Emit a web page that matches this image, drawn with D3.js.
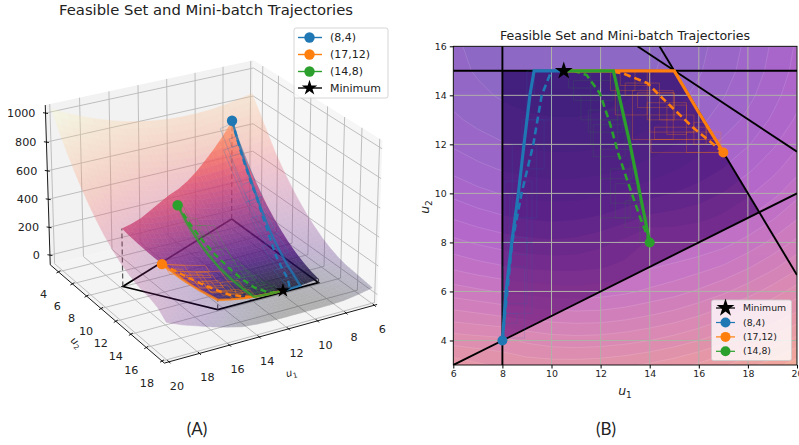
<!DOCTYPE html>
<html>
<head>
<meta charset="utf-8">
<script src="https://cdn.jsdelivr.net/npm/d3@7"></script>
<style>
  body { margin: 0; background: #fff; }
  text { font-family: "DejaVu Sans", sans-serif; fill: #222; }
  .cap { font-family: Lato, sans-serif; font-size: 17px; }
</style>
</head>
<body>
<svg id="chart" width="799" height="445"></svg>
<script>
// surface values, rows are u2, columns are u1
var gridU1 = [6, 7, 8, 9, 10, 11, 12, 13, 14, 15, 16, 17, 18, 19, 20];
var gridU2 = [3, 4, 5, 6, 7, 8, 9, 10, 11, 12, 13, 14, 15, 16, 17, 18];
var surfaceZ = [
  [830, 808, 791, 779, 774, 774, 779, 791, 808, 830, 859, 893, 933, 978, 1029],
  [730, 722, 715, 690, 675, 670, 674, 684, 700, 722, 750, 784, 824, 868, 919],
  [625, 612, 598, 585, 575, 570, 572, 584, 602, 622, 650, 684, 722, 766, 817],
  [525, 510, 495, 485, 475, 472, 478, 490, 510, 530, 558, 590, 628, 673, 724],
  [440, 420, 405, 392, 386, 386, 395, 415, 445, 460, 480, 506, 544, 588, 639],
  [364, 343, 326, 315, 309, 315, 335, 365, 410, 400, 410, 432, 468, 512, 563],
  [296, 274, 257, 246, 240, 244, 258, 282, 312, 322, 336, 362, 400, 444, 495],
  [237, 214, 197, 186, 180, 181, 190, 208, 232, 252, 272, 303, 341, 384, 435],
  [186, 163, 146, 135, 129, 130, 137, 150, 170, 195, 222, 252, 290, 333, 385],
  [143, 121, 104, 92, 87, 87, 92, 104, 122, 148, 178, 212, 246, 291, 342],
  [109, 87, 70, 58, 53, 53, 58, 70, 87, 109, 138, 172, 212, 257, 308],
  [84, 61, 44, 33, 27, 27, 33, 44, 61, 84, 112, 147, 186, 232, 283],
  [67, 44, 27, 16, 10, 10, 16, 27, 44, 67, 95, 130, 169, 215, 266],
  [59, 36, 19, 8, 2, 2, 8, 19, 36, 59, 87, 121, 161, 206, 257],
  [50, 28, 10, 2, 0, 0, 2, 10, 25, 48, 75, 105, 145, 188, 235],
  [40, 20, 5, 0, 0, 0, 0, 0, 5, 15, 40, 70, 105, 140, 185]
];

var feasible = [[8, 4], [8, 15], [15, 15], [18.42, 9.2]];
var constraintLines = [
  [[8, 3], [8, 16]],
  [[6, 15], [20, 15]],
  [[6, 3], [20, 10]],
  [[13.5, 16], [20, 11.7]],
  [[14.4, 16], [20, 6.67]]
];
var minimum = [10.5, 15];

var names = ["(8,4)", "(17,12)", "(14,8)"];
var colors = ["#1f77b4", "#ff7f0e", "#2ca02c"];
var starts = [[8, 4], [17, 11.67], [14, 8]];

var solidPaths = [
  [[8, 4], [8.15, 6], [8.38, 8], [8.65, 10], [8.88, 12], [9.12, 14], [9.29, 15], [10.5, 15]],
  [[17, 11.67], [16, 13.3], [15, 15], [10.5, 15]],
  [[14, 8], [13.6, 10], [13.2, 12], [12.75, 14], [12.52, 15], [10.5, 15]]
];
var dashedPaths = [
  [[8, 4], [8.2, 6], [8.4, 8], [8.78, 10], [9.26, 12], [9.6, 14], [10, 15]],
  [[17, 11.67], [15.75, 12.7], [14.4, 14], [13.9, 14.5], [12.9, 14.9], [12.3, 15]],
  [[14, 8], [13.6, 9.05], [13.13, 10.4], [12.72, 11.63], [12.38, 12.86], [11.97, 14.08], [11.43, 14.83], [10.9, 15]]
];
// mini-batch boxes, u1 low, u1 high, u2 low, u2 high
var blueBoxes = [
  [8, 9.2, 5.1, 8], [8, 8.9, 4.1, 7], [8.1, 8.6, 4.7, 5.1], [8.2, 9, 5.5, 8.2], [8.3, 9, 7.5, 10],
  [8.4, 9.4, 9, 12], [8.8, 9.7, 11, 13], [9, 10, 13, 15], [9.3, 10, 14, 15], [8.1, 9.2, 8, 10.5]
];
var orangeBoxes = [
  [14.05, 16.85, 11.67, 12.2], [14.2, 16.3, 12.2, 12.7], [14, 15.8, 12.5, 13.2], [13.9, 15.5, 13, 13.7],
  [13.5, 15, 13.5, 14.1], [13.3, 14.96, 12.2, 14.2], [13, 14.4, 14, 14.5], [12.8, 14, 14.4, 15],
  [12.6, 13.9, 13.2, 15], [12.4, 13.4, 14.2, 15], [15.5, 16.9, 11.67, 12.5], [15.8, 16.3, 12, 12.9],
  [14.7, 15.5, 12.4, 13.6], [14.4, 15, 13, 14.1]
];
var greenBoxes = [
  [13.6, 14, 8, 9], [13, 13.9, 8.6, 9.7], [12.6, 13.6, 9, 10.4], [12.4, 13.5, 9.6, 11], [12, 13.3, 10.6, 11.8],
  [11.7, 13, 11.5, 12.8], [11.5, 12.9, 12.5, 13.4], [11.2, 12.7, 13, 14], [10.9, 12.5, 13.8, 14.6],
  [10.7, 12, 14.3, 15], [11.6, 12.7, 12, 15], [12, 13.2, 9, 13]
];
var boxes = [blueBoxes, orangeBoxes, greenBoxes];

var contourLevels = d3.range(0, 1100, 50);
var flatTicksU1 = [6, 8, 10, 12, 14, 16, 18, 20];
var flatTicksU2 = [4, 6, 8, 10, 12, 14, 16];
var cubeTicksU1 = [6, 8, 10, 12, 14, 16, 18, 20];
var cubeTicksU2 = [4, 6, 8, 10, 12, 14, 16, 18];
var cubeTicksZ = [0, 200, 400, 600, 800, 1000];

var svg = d3.select("#chart");

// reads the table between its rows and columns
function zAt(u1, u2) {
  var i = Math.max(0, Math.min(gridU1.length - 2, Math.floor(u1 - gridU1[0])));
  var j = Math.max(0, Math.min(gridU2.length - 2, Math.floor(u2 - gridU2[0])));
  var a = u1 - gridU1[i], b = u2 - gridU2[j];
  return (1 - a) * (1 - b) * surfaceZ[j][i] + a * (1 - b) * surfaceZ[j][i + 1] +
    (1 - a) * b * surfaceZ[j + 1][i] + a * b * surfaceZ[j + 1][i + 1];
}

// splits a polyline so it follows the surface in the 3d view
function dense(points, n) {
  var out = [];
  d3.pairs(points).forEach(function(p) {
    d3.range(n).forEach(function(k) {
      out.push([p[0][0] + (p[1][0] - p[0][0]) * k / n, p[0][1] + (p[1][1] - p[0][1]) * k / n]);
    });
  });
  out.push(points[points.length - 1]);
  return out;
}

function boxLoop(b) {
  return [[b[0], b[2]], [b[1], b[2]], [b[1], b[3]], [b[0], b[3]], [b[0], b[2]]];
}

/* ---------- right panel ---------- */
var right = svg.append("g");
var x = d3.scaleLinear().domain([6, 20]).range([453.3, 797]);
var y = d3.scaleLinear().domain([3, 16]).range([365, 46.3]);
var flatLine = d3.line().x(function(d) { return x(d[0]); }).y(function(d) { return y(d[1]); });

svg.append("clipPath").attr("id", "plotClip").append("rect")
    .attr("x", x(6)).attr("y", y(16))
    .attr("width", x(20) - x(6)).attr("height", y(3) - y(16));
svg.append("clipPath").attr("id", "feasClip").append("path")
    .attr("d", flatLine(feasible) + "Z");

var bands = d3.contours().size([gridU1.length, gridU2.length])
    .thresholds(contourLevels)(surfaceZ.reduce(function(a, r) { return a.concat(r); }, []));
var bandPath = d3.geoPath(d3.geoTransform({
  point: function(a, b) { this.stream.point(x(gridU1[0] + a - 0.5), y(gridU2[0] + b - 0.5)); }
}));
var outerColor = function(z) { return d3.interpolatePlasma(0.1 + 0.55 * z / 1000); };
var innerColor = d3.scaleLinear().domain([0, 200, 400, 800])
    .range(["#43207e", "#5a2288", "#7b2f8e", "#a04090"]);

var plot = right.append("g").attr("clip-path", "url(#plotClip)");
plot.append("g").attr("opacity", 0.6).selectAll("path").data(bands).join("path")
    .attr("d", bandPath).attr("fill", function(d) { return outerColor(d.value); });
plot.append("g").selectAll("path").data(bands).join("path")
    .attr("d", bandPath).attr("fill", "none")
    .attr("stroke", "#fff").attr("stroke-opacity", 0.18).attr("stroke-width", 0.7);
plot.append("g").attr("clip-path", "url(#feasClip)").selectAll("path").data(bands).join("path")
    .attr("d", bandPath).attr("fill", function(d) { return innerColor(d.value); });

plot.append("g").selectAll("line").data(flatTicksU1).join("line")
    .attr("x1", x).attr("x2", x).attr("y1", y(3)).attr("y2", y(16))
    .attr("stroke", "#b0b0a8").attr("stroke-width", 1);
plot.append("g").selectAll("line").data(flatTicksU2).join("line")
    .attr("y1", y).attr("y2", y).attr("x1", x(6)).attr("x2", x(20))
    .attr("stroke", "#b0b0a8").attr("stroke-width", 1);

plot.append("g").selectAll("path").data(constraintLines).join("path")
    .attr("d", flatLine).attr("fill", "none").attr("stroke", "#000").attr("stroke-width", 1.9);

boxes.forEach(function(set, s) {
  plot.append("g").selectAll("path").data(set).join("path")
      .attr("d", function(b) { return flatLine(boxLoop(b)); })
      .attr("fill", "none").attr("stroke", colors[s])
      .attr("stroke-opacity", s == 1 ? 0.4 : 0.22).attr("stroke-width", 0.7);
});
dashedPaths.forEach(function(p, s) {
  plot.append("path").attr("d", flatLine(p)).attr("fill", "none")
      .attr("stroke", colors[s]).attr("stroke-width", 2.6).attr("stroke-dasharray", "7,4");
});
solidPaths.forEach(function(p, s) {
  plot.append("path").attr("d", flatLine(p)).attr("fill", "none")
      .attr("stroke", colors[s]).attr("stroke-width", 3.2);
});
starts.forEach(function(p, s) {
  right.append("circle").attr("cx", x(p[0])).attr("cy", y(p[1])).attr("r", 5).attr("fill", colors[s]);
});
right.append("path").attr("d", d3.symbol().type(d3.symbolStar).size(100))
    .attr("transform", "translate(" + x(minimum[0]) + "," + y(minimum[1]) + ")").attr("fill", "#000");

right.append("rect").attr("x", x(6)).attr("y", y(16))
    .attr("width", x(20) - x(6)).attr("height", y(3) - y(16))
    .attr("fill", "none").attr("stroke", "#000").attr("stroke-width", 0.9);

var xAxis = right.append("g").attr("transform", "translate(0," + y(3) + ")")
    .call(d3.axisBottom(x).tickValues(flatTicksU1).tickSize(3.5).tickPadding(2).tickFormat(d3.format("d")));
var yAxis = right.append("g").attr("transform", "translate(" + x(6) + ",0)")
    .call(d3.axisLeft(y).tickValues(flatTicksU2).tickSize(3.5).tickPadding(3).tickFormat(d3.format("d")));
[xAxis, yAxis].forEach(function(a) {
  a.select(".domain").remove();
  a.selectAll("text").style("font-size", "9.4px").style("font-family", "DejaVu Sans").attr("fill", "#222");
});

right.append("text").attr("x", 625).attr("y", 40).attr("text-anchor", "middle")
    .style("font-size", "12.6px").text("Feasible Set and Mini-batch Trajectories");

function mathLabel(g, ax, ay, sub, size, rot) {
  var t = g.append("text").attr("transform", "translate(" + ax + "," + ay + ") rotate(" + rot + ")")
      .attr("text-anchor", "middle").style("font-size", size + "px");
  t.append("tspan").style("font-style", "italic").text("u");
  t.append("tspan").attr("dy", size * 0.25).style("font-size", (size * 0.72) + "px").text(sub);
}
mathLabel(right, 625, 395, "1", 12.5, 0);
mathLabel(right, 429, 207, "2", 12.5, -90);

// right legend
var legRight = right.append("g");
legRight.append("rect").attr("x", 711.5).attr("y", 300).attr("width", 80).attr("height", 60.5).attr("rx", 2)
    .attr("fill", "#fff").attr("fill-opacity", 0.8).attr("stroke", "#ccc").attr("stroke-width", 0.8);
legRight.append("line").attr("x1", 716).attr("x2", 735).attr("y1", 308).attr("y2", 308).attr("stroke", "#000").attr("stroke-width", 1.2);
legRight.append("path").attr("d", d3.symbol().type(d3.symbolStar).size(100))
    .attr("transform", "translate(725.5,308)").attr("fill", "#000");
legRight.append("text").attr("x", 743).attr("y", 311).style("font-size", "9.3px").text("Minimum");
names.forEach(function(n, s) {
  var ly = 322.5 + s * 14.4;
  legRight.append("line").attr("x1", 716).attr("x2", 735).attr("y1", ly).attr("y2", ly).attr("stroke", colors[s]).attr("stroke-width", 1.2);
  legRight.append("circle").attr("cx", 725.5).attr("cy", ly).attr("r", 5).attr("fill", colors[s]);
  legRight.append("text").attr("x", 743).attr("y", ly + 3).style("font-size", "9.3px").text(n);
});

/* ---------- left panel, mplot3d style view ---------- */
var left = svg.append("g");
var elev = 25 * Math.PI / 180, azim = 60 * Math.PI / 180, dist = 10;
var xlim = [5.8, 20.3], ylim = [2.8, 18.3], zlim = [-70, 1055];
var nx = d3.scaleLinear().domain(xlim).range([0, 1]);
var ny = d3.scaleLinear().domain(ylim).range([0, 1]);
var nz = d3.scaleLinear().domain(zlim).range([0, 0.735]);
var sx = d3.scaleLinear().domain([-1, 1]).range([211 - 243, 211 + 243]);
var sy = d3.scaleLinear().domain([-1, 1]).range([203 + 243, 203 - 243]);

var w = [Math.cos(elev) * Math.cos(azim), Math.cos(elev) * Math.sin(azim), Math.sin(elev)];
var r = [-Math.sin(azim), Math.cos(azim), 0];
var up = [w[1] * r[2] - w[2] * r[1], w[2] * r[0] - w[0] * r[2], w[0] * r[1] - w[1] * r[0]];

function project(u1, u2, z) {
  var d = [nx(u1) - 0.5 - w[0] * dist, ny(u2) - 0.5 - w[1] * dist, nz(z) - 0.375 - w[2] * dist];
  var dot = function(a) { return a[0] * d[0] + a[1] * d[1] + a[2] * d[2]; };
  var k = dist / -dot(w);
  return [sx(dot(r) * k), sy(dot(up) * k)];
}
var line3 = d3.line();
function onSurface(points) {
  return points.map(function(p) { return project(p[0], p[1], zAt(p[0], p[1])); });
}

// panes
var panes = [
  { fill: "#f2f2f2", c: [[xlim[0], ylim[0], zlim[0]], [xlim[1], ylim[0], zlim[0]], [xlim[1], ylim[0], zlim[1]], [xlim[0], ylim[0], zlim[1]]] },
  { fill: "#f6f6f6", c: [[xlim[0], ylim[0], zlim[0]], [xlim[0], ylim[1], zlim[0]], [xlim[0], ylim[1], zlim[1]], [xlim[0], ylim[0], zlim[1]]] },
  { fill: "#f4f4f4", c: [[xlim[0], ylim[0], zlim[0]], [xlim[1], ylim[0], zlim[0]], [xlim[1], ylim[1], zlim[0]], [xlim[0], ylim[1], zlim[0]]] }
];
left.append("g").selectAll("path").data(panes).join("path")
    .attr("d", function(p) { return line3(p.c.map(function(c) { return project(c[0], c[1], c[2]); })) + "Z"; })
    .attr("fill", function(p) { return p.fill; });

// grid lines
var gridLines = [];
cubeTicksU1.forEach(function(t) {
  gridLines.push([[t, ylim[1], zlim[0]], [t, ylim[0], zlim[0]], [t, ylim[0], zlim[1]]]);
});
cubeTicksU2.forEach(function(t) {
  gridLines.push([[xlim[1], t, zlim[0]], [xlim[0], t, zlim[0]], [xlim[0], t, zlim[1]]]);
});
cubeTicksZ.forEach(function(t) {
  gridLines.push([[xlim[1], ylim[0], t], [xlim[0], ylim[0], t], [xlim[0], ylim[1], t]]);
});
left.append("g").selectAll("path").data(gridLines).join("path")
    .attr("d", function(g) { return line3(g.map(function(c) { return project(c[0], c[1], c[2]); })); })
    .attr("fill", "none").attr("stroke", "#b8b8b8").attr("stroke-width", 0.9);

// axis edges and ticks
var edges = [
  [[xlim[1], ylim[1], zlim[0]], [xlim[0], ylim[1], zlim[0]]],
  [[xlim[1], ylim[0], zlim[0]], [xlim[1], ylim[1], zlim[0]]],
  [[xlim[1], ylim[0], zlim[0]], [xlim[1], ylim[0], zlim[1]]]
];
left.append("g").selectAll("path").data(edges).join("path")
    .attr("d", function(g) { return line3(g.map(function(c) { return project(c[0], c[1], c[2]); })); })
    .attr("stroke", "#000").attr("stroke-width", 0.9);

function tickMark(p, dx, dy) {
  left.append("line").attr("x1", p[0] - dx).attr("y1", p[1] - dy).attr("x2", p[0] + dx).attr("y2", p[1] + dy)
      .attr("stroke", "#000").attr("stroke-width", 0.9);
}
cubeTicksU1.forEach(function(t) {
  var p = project(t, ylim[1], zlim[0]);
  tickMark(p, 1.5, 1.5);
  left.append("text").attr("x", p[0] + 8).attr("y", p[1] + 28).attr("text-anchor", "middle")
      .style("font-size", "11.2px").text(t);
});
cubeTicksU2.forEach(function(t) {
  var p = project(xlim[1], t, zlim[0]);
  tickMark(p, -2, 1.2);
  left.append("text").attr("x", p[0] - 15).attr("y", p[1] + 26).attr("text-anchor", "middle")
      .style("font-size", "11.2px").text(t);
});
cubeTicksZ.forEach(function(t) {
  var p = project(xlim[1], ylim[0], t);
  tickMark(p, 2.5, 0.4);
  left.append("text").attr("x", p[0] - 10).attr("y", p[1] + 4).attr("text-anchor", "end")
      .style("font-size", "11.2px").text(t);
});
mathLabel(left, 292, 376, "1", 10, -14);
mathLabel(left, 74, 345, "2", 10, 42);

// floor polygon and the dashed drops, they sit under the surface
left.append("path").attr("d", line3(feasible.map(function(p) { return project(p[0], p[1], 0); })) + "Z")
    .attr("fill", "none").attr("stroke", "#000").attr("stroke-width", 1.7);
left.append("g").selectAll("path").data(feasible).join("path")
    .attr("d", function(p) { return line3([project(p[0], p[1], 0), project(p[0], p[1], zAt(p[0], p[1]))]); })
    .attr("stroke", "#555").attr("stroke-width", 1.2).attr("stroke-dasharray", "5,3");

// surface mesh
var sub = 3, cells = [];
gridU1.slice(0, -1).forEach(function(a) {
  gridU2.slice(0, -1).forEach(function(b) {
    d3.range(sub).forEach(function(i) {
      d3.range(sub).forEach(function(j) {
        cells.push([a + i / sub, b + j / sub]);
      });
    });
  });
});
function cellPath(c) {
  var s = 1 / sub;
  return line3(onSurface([[c[0], c[1]], [c[0] + s, c[1]], [c[0] + s, c[1] + s], [c[0], c[1] + s]])) + "Z";
}
function cellColor(c) {
  var s = 0.5 / sub;
  return d3.interpolateMagma(Math.min(1, Math.pow(zAt(c[0] + s, c[1] + s) / 1000, 0.65)));
}
function drawMesh(g) {
  g.selectAll("path").data(cells).join("path")
      .attr("d", cellPath).attr("fill", cellColor).attr("stroke", cellColor).attr("stroke-width", 0.5);
}
left.append("g").attr("opacity", 0.27).call(drawMesh);

svg.append("clipPath").attr("id", "surfClip").append("path")
    .attr("d", line3(onSurface(dense(feasible.concat([feasible[0]]), 12))) + "Z");
left.append("g").attr("clip-path", "url(#surfClip)").append("g").attr("opacity", 0.75).call(drawMesh);

// trajectories on the surface
boxes.forEach(function(set, s) {
  left.append("g").selectAll("path").data(set).join("path")
      .attr("d", function(b) { return line3(onSurface(dense(boxLoop(b), 4))); })
      .attr("fill", "none").attr("stroke", colors[s])
      .attr("stroke-opacity", s == 1 ? 0.6 : 0.35).attr("stroke-width", 0.7);
});
dashedPaths.forEach(function(p, s) {
  left.append("path").attr("d", line3(onSurface(dense(p, 5)))).attr("fill", "none")
      .attr("stroke", colors[s]).attr("stroke-width", 2.4).attr("stroke-dasharray", "6,4");
});
solidPaths.forEach(function(p, s) {
  left.append("path").attr("d", line3(onSurface(dense(p, 5)))).attr("fill", "none")
      .attr("stroke", colors[s]).attr("stroke-width", 2.4).attr("stroke-opacity", 0.8);
});
starts.forEach(function(p, s) {
  var q = project(p[0], p[1], zAt(p[0], p[1]));
  left.append("circle").attr("cx", q[0]).attr("cy", q[1]).attr("r", 5.2).attr("fill", colors[s]);
});
var mq = project(minimum[0], minimum[1], zAt(minimum[0], minimum[1]));
left.append("path").attr("d", d3.symbol().type(d3.symbolStar).size(65))
    .attr("transform", "translate(" + mq[0] + "," + mq[1] + ")").attr("fill", "#000");

left.append("text").attr("x", 206).attr("y", 15).attr("text-anchor", "middle")
    .style("font-size", "14.8px").text("Feasible Set and Mini-batch Trajectories");

// left legend
var legLeft = left.append("g");
legLeft.append("rect").attr("x", 294).attr("y", 28).attr("width", 94).attr("height", 70).attr("rx", 2)
    .attr("fill", "#fff").attr("fill-opacity", 0.8).attr("stroke", "#ccc").attr("stroke-width", 0.8);
names.forEach(function(n, s) {
  var ly = 37.5 + s * 17;
  legLeft.append("line").attr("x1", 298).attr("x2", 322).attr("y1", ly).attr("y2", ly).attr("stroke", colors[s]).attr("stroke-width", 1.4);
  legLeft.append("circle").attr("cx", 309.5).attr("cy", ly).attr("r", 5.2).attr("fill", colors[s]);
  legLeft.append("text").attr("x", 330).attr("y", ly + 3.5).style("font-size", "11px").text(n);
});
legLeft.append("line").attr("x1", 298).attr("x2", 322).attr("y1", 88).attr("y2", 88).attr("stroke", "#000").attr("stroke-width", 1.4);
legLeft.append("path").attr("d", d3.symbol().type(d3.symbolStar).size(75))
    .attr("transform", "translate(309.5,88)").attr("fill", "#000");
legLeft.append("text").attr("x", 330).attr("y", 91.5).style("font-size", "11px").text("Minimum");

svg.append("text").attr("class", "cap").attr("x", 197).attr("y", 435).attr("text-anchor", "middle").text("(A)");
svg.append("text").attr("class", "cap").attr("x", 606).attr("y", 435).attr("text-anchor", "middle").text("(B)");
</script>
</body>
</html>
